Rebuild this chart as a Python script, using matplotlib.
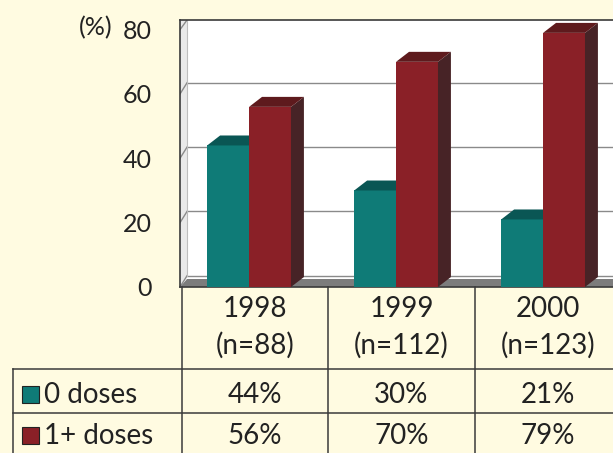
import matplotlib
matplotlib.use("Agg")
import matplotlib.pyplot as plt
from matplotlib.patches import Polygon, Rectangle
from matplotlib.lines import Line2D

# ---- data ----
years = ["1998", "1999", "2000"]
sample_sizes = ["(n=88)", "(n=112)", "(n=123)"]
series_names = ["0 doses", "1+ doses"]
zero_doses = [44, 30, 21]
one_plus_doses = [56, 70, 79]
yticks = [0, 20, 40, 60, 80]

plt.rcParams['font.family'] = ['Lato', 'DejaVu Sans']

W, H = 613, 453
BG = "#FFFBE1"
TEAL = "#0F7B77"
TEAL_TOP = "#0A5654"
TEAL_SIDE = "#0A4A48"
RED = "#8A2027"
RED_TOP = "#5E1A1D"
RED_SIDE = "#472326"
GRID = "#8a8a8a"
LINE = "#3a3a3a"
TXT = "#222222"

fig = plt.figure(figsize=(W / 100, H / 100), dpi=100, facecolor=BG)

# main chart axes (front plane), extends past right edge like the reference
ax_l, ax_r, ax_t, ax_b = 180, 621, 20, 287
ax = fig.add_axes([ax_l / W, 1 - ax_b / H, (ax_r - ax_l) / W, (ax_b - ax_t) / H])
ax.set_facecolor("white")
xmin, xmax = -0.5, 2.5
ymax = 83
ax.set_xlim(xmin, xmax)
ax.set_ylim(0, ymax)

dx_wall, dy_wall = 0.048, 3.5   # back-wall offset
dx_bar, dy_bar = 0.088, 3.1     # bar depth

# left wall
ax.add_patch(Polygon([(xmin, 0), (xmin + dx_wall, dy_wall), (xmin + dx_wall, ymax),
                      (xmin, ymax)], closed=True, facecolor="#e9e9e9",
                     edgecolor="none", zorder=1))
# back wall gridlines + wall diagonals
for v in yticks:
    if v + dy_wall < ymax:
        ax.plot([xmin + dx_wall, xmax], [v + dy_wall, v + dy_wall], color=GRID,
                lw=1.0, zorder=1.5)
    ax.plot([xmin, xmin + dx_wall], [v, min(v + dy_wall, ymax)], color=GRID,
            lw=1.0, zorder=1.5)
ax.plot([xmin + dx_wall, xmin + dx_wall], [dy_wall, ymax], color="#bdbdbd",
        lw=0.8, zorder=1.5)
# floor
ax.add_patch(Polygon([(xmin, 0), (xmax, 0), (xmax, 2.6), (xmin + dx_wall, 2.6)],
                     closed=True, facecolor="#7c7c7c", edgecolor="none", zorder=2))

w = 0.285
shift = -0.03


def bar3d(x, v, front, top, side, z):
    ax.bar([x], [v], width=w, color=front, edgecolor="none", zorder=z)
    xl, xr = x - w / 2, x + w / 2
    ax.add_patch(Polygon([(xr, 0), (xr + dx_bar, dy_bar), (xr + dx_bar, v + dy_bar),
                          (xr, v)], closed=True, facecolor=side, edgecolor="none",
                         zorder=z))
    ax.add_patch(Polygon([(xl, v), (xl + dx_bar, v + dy_bar), (xr + dx_bar, v + dy_bar),
                          (xr, v)], closed=True, facecolor=top, edgecolor="none",
                         zorder=z))


for i in range(len(years)):
    bar3d(i + shift - w / 2, zero_doses[i], TEAL, TEAL_TOP, TEAL_SIDE, 3)
    bar3d(i + shift + w / 2, one_plus_doses[i], RED, RED_TOP, RED_SIDE, 4)

ax.set_xticks([])
ax.set_yticks(yticks)
ax.set_yticklabels([str(t) for t in yticks], fontsize=18, color=TXT)
ax.tick_params(axis="y", length=0, pad=20)
for s in ["left", "bottom", "top"]:
    ax.spines[s].set_color(LINE)
    ax.spines[s].set_linewidth(1.2)
ax.spines["right"].set_visible(False)

# overlay in pixel coordinates for table and unit label
ov = fig.add_axes([0, 0, 1, 1], facecolor="none")
ov.set_xlim(0, W)
ov.set_ylim(H, 0)
ov.axis("off")

ov.text(96, 28, "(%)", fontsize=18, color=TXT, ha="center", va="center")

col_edges = [182, 328, 475, 621]
col_centers = [(col_edges[i] + col_edges[i + 1]) / 2 for i in range(3)]


def hline(y, x0, x1):
    ov.add_line(Line2D([x0, x1], [y, y], color=LINE, lw=1.1))


def vline(x, y0, y1):
    ov.add_line(Line2D([x, x], [y0, y1], color=LINE, lw=1.1))


for x in col_edges[:3]:
    vline(x, 287, H)
vline(13, 369, H)
hline(369, 13, W)
hline(413, 13, W)

for i in range(3):
    ov.text(col_centers[i], 309, years[i], fontsize=20, color=TXT, ha="center", va="center")
    ov.text(col_centers[i], 345, sample_sizes[i], fontsize=20, color=TXT, ha="center", va="center")

rows = [(series_names[0], zero_doses, TEAL, 395), (series_names[1], one_plus_doses, RED, 436)]
for name, vals, col, y in rows:
    ov.add_patch(Rectangle((22, y - 9), 17, 17, facecolor=col, edgecolor="#222", lw=0.8))
    ov.text(44, y, name, fontsize=20, color=TXT, ha="left", va="center")
    for i, v in enumerate(vals):
        ov.text(col_centers[i], y, f"{v}%", fontsize=20, color=TXT, ha="center", va="center")

fig.savefig("out.png", dpi=100, facecolor=BG)
